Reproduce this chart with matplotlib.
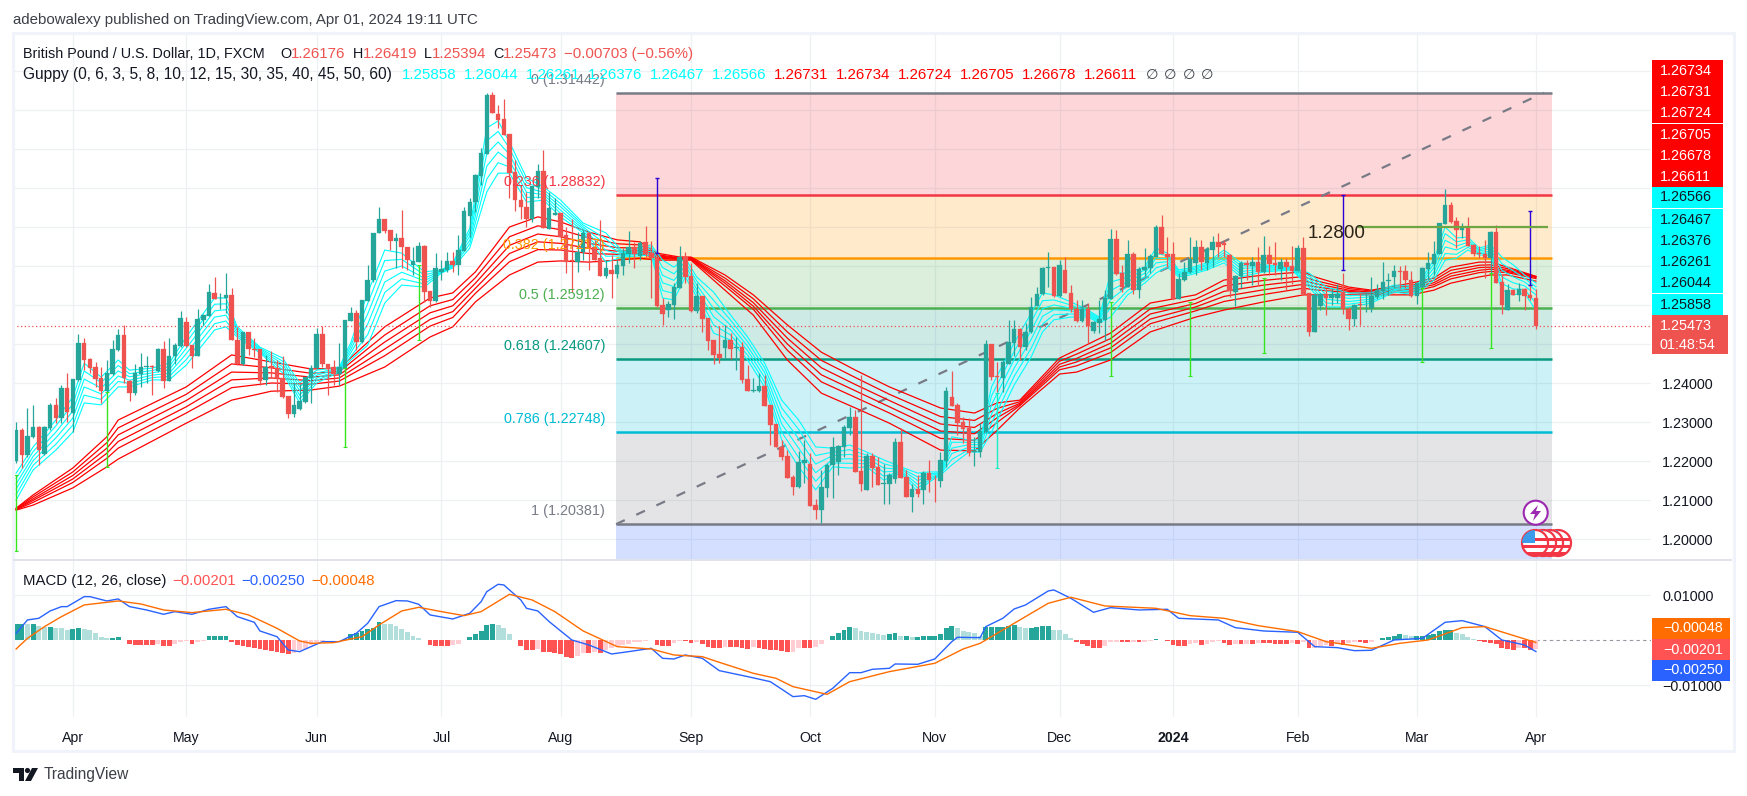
import matplotlib
matplotlib.use('Agg')
import matplotlib.pyplot as plt
from matplotlib.patches import Rectangle, Circle, Polygon
from matplotlib.transforms import IdentityTransform

W, H = 1747, 796
plt.rcParams['font.family'] = ['Liberation Sans', 'DejaVu Sans']

# === candles ===
opens = [1.2201,1.2279,1.2215,1.2262,1.2288,1.2218,1.2284,1.2344,1.2309,1.2388,
1.2324,1.2408,1.2503,1.2461,1.2441,1.2412,1.2379,1.2423,1.2485,1.2523,
1.2405,1.2374,1.2423,1.2440,1.2444,1.2432,1.2487,1.2406,1.2468,1.2495,
1.2556,1.2497,1.2468,1.2562,1.2572,1.2632,1.2617,1.2618,1.2625,1.2510,
1.2449,1.2531,1.2486,1.2486,1.2408,1.2444,1.2438,1.2412,1.2367,1.2321,
1.2333,1.2352,1.2412,1.2438,1.2526,1.2449,1.2440,1.2423,1.2438,1.2560,
1.2579,1.2505,1.2611,1.2664,1.2785,1.2821,1.2792,1.2764,1.2772,1.2749,
1.2703,1.2710,1.2751,1.2636,1.2610,1.2685,1.2690,1.2713,1.2703,1.2739,
1.2828,1.2863,1.2932,1.2987,1.3138,1.3090,1.3077,1.3038,1.2940,1.2869,
1.2852,1.2821,1.2903,1.2944,1.2795,1.2832,1.2835,1.2779,1.2716,1.2709,
1.2737,1.2785,1.2748,1.2720,1.2674,1.2689,1.2680,1.2701,1.2731,1.2748,
1.2726,1.2761,1.2733,1.2722,1.2600,1.2587,1.2600,1.2644,1.2724,1.2674,
1.2585,1.2623,1.2566,1.2510,1.2474,1.2491,1.2510,1.2491,1.2492,1.2410,
1.2380,1.2380,1.2392,1.2344,1.2295,1.2235,1.2213,1.2160,1.2134,1.2194,
1.2192,1.2087,1.2074,1.2132,1.2190,1.2198,1.2237,1.2285,1.2312,1.2174,
1.2126,1.2213,1.2185,1.2140,1.2141,1.2154,1.2248,1.2158,1.2109,1.2127,
1.2126,1.2170,1.2155,1.2150,1.2201,1.2363,1.2344,1.2300,1.2285,1.2222,
1.2224,1.2275,1.2500,1.2418,1.2413,1.2450,1.2502,1.2538,1.2493,1.2532,
1.2598,1.2627,1.2696,1.2697,1.2624,1.2691,1.2632,1.2591,1.2559,1.2590,
1.2534,1.2554,1.2562,1.2615,1.2768,1.2681,1.2647,1.2732,1.2638,1.2690,
1.2694,1.2724,1.2800,1.2732,1.2730,1.2615,1.2664,1.2684,1.2707,1.2748,
1.2707,1.2741,1.2761,1.2758,1.2728,1.2634,1.2675,1.2707,1.2701,1.2709,
1.2685,1.2727,1.2707,1.2692,1.2709,1.2700,1.2687,1.2745,1.2630,1.2532,
1.2598,1.2627,1.2617,1.2617,1.2632,1.2591,1.2564,1.2603,1.2599,1.2593,
1.2621,1.2636,1.2662,1.2673,1.2686,1.2687,1.2664,1.2624,1.2645,1.2692,
1.2705,1.2731,1.2808,1.2856,1.2815,1.2792,1.2801,1.2754,1.2733,1.2731,
1.2721,1.2788,1.2659,1.2587,1.2638,1.2626,1.2641,1.2626,1.26176]
closes = [1.2279,1.2215,1.2264,1.2288,1.2228,1.2288,1.2344,1.2309,1.2388,1.2326,
1.2410,1.2503,1.2459,1.2439,1.2410,1.2379,1.2425,1.2486,1.2523,1.2412,
1.2375,1.2426,1.2441,1.2444,1.2442,1.2487,1.2406,1.2469,1.2497,1.2566,
1.2495,1.2468,1.2564,1.2574,1.2633,1.2615,1.2619,1.2625,1.2509,1.2448,
1.2531,1.2486,1.2485,1.2406,1.2440,1.2438,1.2410,1.2365,1.2321,1.2344,
1.2354,1.2415,1.2438,1.2526,1.2449,1.2435,1.2423,1.2440,1.2562,1.2579,
1.2506,1.2613,1.2664,1.2785,1.2821,1.2791,1.2764,1.2772,1.2749,1.2715,
1.2713,1.2751,1.2633,1.2610,1.2695,1.2692,1.2713,1.2703,1.2740,1.2841,
1.2865,1.2933,1.2989,1.3138,1.3093,1.3075,1.3036,1.2939,1.2868,1.2852,
1.2821,1.2905,1.2944,1.2797,1.2848,1.2835,1.2775,1.2711,1.2713,1.2737,
1.2784,1.2745,1.2716,1.2674,1.2694,1.2680,1.2703,1.2733,1.2748,1.2731,
1.2759,1.2731,1.2721,1.2597,1.2577,1.2603,1.2645,1.2724,1.2671,1.2585,
1.2623,1.2564,1.2508,1.2472,1.2465,1.2510,1.2487,1.2493,1.2408,1.2380,
1.2382,1.2392,1.2342,1.2292,1.2235,1.2211,1.2157,1.2134,1.2197,1.2203,
1.2085,1.2074,1.2134,1.2191,1.2235,1.2238,1.2286,1.2312,1.2173,1.2141,
1.2213,1.2183,1.2138,1.2143,1.2164,1.2248,1.2157,1.2109,1.2127,1.2115,
1.2170,1.2151,1.2153,1.2203,1.2379,1.2341,1.2298,1.2282,1.2221,1.2226,
1.2278,1.2500,1.2416,1.2416,1.2455,1.2504,1.2538,1.2493,1.2532,1.2596,
1.2627,1.2694,1.2697,1.2624,1.2702,1.2632,1.2591,1.2559,1.2590,1.2547,
1.2556,1.2563,1.2617,1.2768,1.2679,1.2647,1.2732,1.2638,1.2692,1.2697,
1.2726,1.2800,1.2732,1.2724,1.2615,1.2666,1.2684,1.2718,1.2748,1.2709,
1.2744,1.2761,1.2748,1.2755,1.2636,1.2675,1.2707,1.2702,1.2709,1.2684,
1.2727,1.2705,1.2703,1.2709,1.2698,1.2687,1.2745,1.2627,1.2532,1.2626,
1.2627,1.2617,1.2628,1.2628,1.2591,1.2564,1.2600,1.2601,1.2600,1.2623,
1.2638,1.2660,1.2664,1.2687,1.2684,1.2664,1.2624,1.2656,1.2694,1.2707,
1.2732,1.2809,1.2856,1.2813,1.2792,1.2801,1.2751,1.2731,1.2731,1.2721,
1.2788,1.2657,1.2600,1.2638,1.2626,1.2641,1.2624,1.2619,1.25473]
highs = [1.2301,1.2284,1.2335,1.2344,1.2290,1.2290,1.2348,1.2361,1.2395,1.2425,
1.2410,1.2526,1.2516,1.2463,1.2455,1.2442,1.2459,1.2510,1.2538,1.2548,
1.2408,1.2450,1.2476,1.2468,1.2446,1.2489,1.2508,1.2516,1.2502,1.2585,
1.2568,1.2497,1.2591,1.2576,1.2653,1.2673,1.2632,1.2683,1.2643,1.2544,
1.2531,1.2531,1.2515,1.2486,1.2472,1.2483,1.2459,1.2469,1.2367,1.2399,
1.2397,1.2415,1.2446,1.2540,1.2546,1.2449,1.2459,1.2503,1.2562,1.2596,
1.2587,1.2613,1.2703,1.2785,1.2851,1.2821,1.2792,1.2785,1.2844,1.2749,
1.2749,1.2762,1.2754,1.2636,1.2733,1.2715,1.2737,1.2737,1.2779,1.2852,
1.2875,1.2935,1.3002,1.3143,1.3145,1.3113,1.3128,1.3038,1.2972,1.2908,
1.2891,1.2905,1.2961,1.2997,1.2891,1.2874,1.2835,1.2801,1.2820,1.2788,
1.2792,1.2785,1.2767,1.2818,1.2715,1.2728,1.2715,1.2745,1.2790,1.2762,
1.2765,1.2803,1.2764,1.2726,1.2617,1.2609,1.2656,1.2750,1.2737,1.2707,
1.2656,1.2623,1.2566,1.2510,1.2546,1.2549,1.2529,1.2519,1.2506,1.2446,
1.2412,1.2425,1.2420,1.2344,1.2295,1.2254,1.2228,1.2165,1.2226,1.2254,
1.2221,1.2103,1.2177,1.2194,1.2261,1.2240,1.2292,1.2339,1.2332,1.2421,
1.2220,1.2220,1.2211,1.2192,1.2168,1.2258,1.2284,1.2177,1.2141,1.2164,
1.2174,1.2203,1.2164,1.2224,1.2389,1.2431,1.2350,1.2312,1.2309,1.2262,
1.2297,1.2510,1.2500,1.2455,1.2460,1.2562,1.2562,1.2540,1.2553,1.2620,
1.2647,1.2697,1.2735,1.2697,1.2715,1.2724,1.2651,1.2613,1.2613,1.2604,
1.2558,1.2613,1.2638,1.2794,1.2792,1.2703,1.2767,1.2735,1.2697,1.2745,
1.2730,1.2805,1.2831,1.2774,1.2762,1.2681,1.2711,1.2774,1.2767,1.2767,
1.2748,1.2777,1.2785,1.2766,1.2730,1.2677,1.2712,1.2715,1.2724,1.2748,
1.2777,1.2750,1.2762,1.2720,1.2720,1.2751,1.2754,1.2774,1.2632,1.2632,
1.2630,1.2643,1.2640,1.2653,1.2683,1.2595,1.2603,1.2630,1.2630,1.2671,
1.2655,1.2709,1.2681,1.2703,1.2700,1.2703,1.2688,1.2658,1.2697,1.2737,
1.2765,1.2811,1.2897,1.2863,1.2826,1.2809,1.2826,1.2756,1.2750,1.2767,
1.2790,1.2805,1.2677,1.2654,1.2640,1.2656,1.2643,1.2656,1.26419]
lows = [1.2194,1.2181,1.2211,1.2258,1.2190,1.2215,1.2279,1.2297,1.2297,1.2301,
1.2275,1.2406,1.2433,1.2425,1.2391,1.2348,1.2377,1.2421,1.2483,1.2401,
1.2355,1.2369,1.2391,1.2399,1.2369,1.2429,1.2386,1.2404,1.2450,1.2493,
1.2493,1.2438,1.2468,1.2549,1.2572,1.2615,1.2591,1.2579,1.2509,1.2446,
1.2446,1.2472,1.2466,1.2395,1.2394,1.2412,1.2376,1.2361,1.2311,1.2314,
1.2331,1.2348,1.2350,1.2435,1.2442,1.2369,1.2395,1.2395,1.2425,1.2560,
1.2485,1.2502,1.2609,1.2659,1.2785,1.2785,1.2741,1.2695,1.2695,1.2690,
1.2677,1.2710,1.2608,1.2595,1.2608,1.2664,1.2685,1.2685,1.2677,1.2739,
1.2775,1.2839,1.2908,1.2987,1.3093,1.3053,1.3036,1.2874,1.2841,1.2820,
1.2801,1.2812,1.2874,1.2797,1.2795,1.2831,1.2762,1.2683,1.2634,1.2685,
1.2715,1.2690,1.2716,1.2674,1.2670,1.2617,1.2668,1.2677,1.2707,1.2694,
1.2715,1.2724,1.2617,1.2596,1.2549,1.2568,1.2564,1.2644,1.2656,1.2583,
1.2579,1.2532,1.2485,1.2448,1.2452,1.2465,1.2462,1.2433,1.2399,1.2380,
1.2377,1.2377,1.2342,1.2241,1.2235,1.2203,1.2156,1.2113,1.2130,1.2143,
1.2085,1.2051,1.2040,1.2109,1.2104,1.2164,1.2211,1.2267,1.2173,1.2124,
1.2126,1.2134,1.2138,1.2090,1.2091,1.2144,1.2157,1.2109,1.2070,1.2107,
1.2091,1.2121,1.2096,1.2134,1.2185,1.2341,1.2267,1.2245,1.2213,1.2187,
1.2211,1.2275,1.2408,1.2376,1.2376,1.2450,1.2468,1.2459,1.2485,1.2527,
1.2598,1.2625,1.2647,1.2621,1.2621,1.2630,1.2583,1.2557,1.2557,1.2503,
1.2527,1.2527,1.2510,1.2615,1.2677,1.2634,1.2645,1.2627,1.2617,1.2675,
1.2681,1.2722,1.2730,1.2698,1.2615,1.2615,1.2662,1.2682,1.2677,1.2690,
1.2690,1.2698,1.2724,1.2724,1.2621,1.2598,1.2643,1.2664,1.2651,1.2651,
1.2683,1.2677,1.2677,1.2664,1.2638,1.2655,1.2687,1.2625,1.2521,1.2532,
1.2587,1.2574,1.2600,1.2604,1.2576,1.2536,1.2547,1.2550,1.2583,1.2583,
1.2616,1.2616,1.2626,1.2643,1.2643,1.2643,1.2621,1.2603,1.2643,1.2664,
1.2677,1.2731,1.2808,1.2811,1.2745,1.2771,1.2751,1.2726,1.2720,1.2668,
1.2681,1.2656,1.2577,1.2587,1.2626,1.2609,1.2587,1.2612,1.25394]

# === guppy lines, read at these bars, top to bottom of each ribbon ===
fast_bars = [0,3,7,10,12,15,18,20,24,27,30,35,37,39,43,47,50,53,57,59,62,65,68,72,75,77,80,83,85,87,
90,93,96,100,104,107,112,114,116,118,120,123,126,129,132,135,138,141,144,147,150,153,156,159,161,163,165,168,170,172,
176,179,181,183,186,189,191,193,196,199,201,203,205,207,210,213,216,220,225,228,231,235,239,243,247,250,252,254,256,258,
260,262,264,266,268]
fast_1 = [1.2169,1.2236,1.2305,1.2364,1.2451,1.2415,1.2459,1.2433,1.2438,1.2451,1.2518,1.2618,1.2618,1.2544,1.2492,1.2464,1.2400,1.2433,1.2441,1.2503,1.2631,1.2741,1.2733,1.2685,1.2690,1.2708,1.2797,1.3054,1.3072,1.3018,
1.2926,1.2903,1.2869,1.2810,1.2785,1.2736,1.2754,1.2715,1.2697,1.2720,1.2672,1.2633,1.2574,1.2518,1.2451,1.2356,1.2305,1.2236,1.2233,1.2241,1.2223,1.2203,1.2185,1.2169,1.2172,1.2172,1.2262,1.2254,1.2254,1.2390,
1.2503,1.2579,1.2631,1.2626,1.2608,1.2587,1.2569,1.2682,1.2682,1.2697,1.2746,1.2733,1.2690,1.2695,1.2708,1.2741,1.2708,1.2703,1.2697,1.2682,1.2646,1.2631,1.2631,1.2651,1.2649,1.2715,1.2800,1.2772,1.2774,1.2746,
1.2754,1.2723,1.2703,1.2677,1.26566]
fast_2 = [1.2155,1.2224,1.2290,1.2346,1.2431,1.2401,1.2445,1.2424,1.2432,1.2442,1.2504,1.2602,1.2603,1.2539,1.2489,1.2456,1.2390,1.2426,1.2438,1.2494,1.2604,1.2714,1.2717,1.2677,1.2688,1.2705,1.2787,1.3021,1.3045,1.3002,
1.2914,1.2896,1.2860,1.2805,1.2770,1.2733,1.2749,1.2696,1.2680,1.2710,1.2662,1.2612,1.2561,1.2506,1.2439,1.2336,1.2281,1.2214,1.2223,1.2229,1.2215,1.2193,1.2182,1.2159,1.2167,1.2170,1.2248,1.2248,1.2248,1.2367,
1.2481,1.2557,1.2611,1.2613,1.2600,1.2583,1.2566,1.2659,1.2671,1.2689,1.2733,1.2726,1.2686,1.2691,1.2704,1.2734,1.2701,1.2699,1.2696,1.2675,1.2636,1.2624,1.2626,1.2647,1.2644,1.2705,1.2783,1.2762,1.2767,1.2742,
1.2749,1.2706,1.2688,1.2668,1.26467]
fast_3 = [1.2141,1.2212,1.2274,1.2328,1.2410,1.2387,1.2431,1.2416,1.2426,1.2434,1.2489,1.2585,1.2588,1.2534,1.2486,1.2449,1.2380,1.2420,1.2436,1.2485,1.2577,1.2687,1.2700,1.2669,1.2687,1.2703,1.2777,1.2988,1.3018,1.2986,
1.2901,1.2889,1.2852,1.2800,1.2755,1.2731,1.2744,1.2676,1.2663,1.2701,1.2652,1.2591,1.2548,1.2494,1.2427,1.2315,1.2257,1.2192,1.2214,1.2217,1.2208,1.2182,1.2179,1.2150,1.2162,1.2169,1.2233,1.2242,1.2242,1.2344,
1.2460,1.2534,1.2591,1.2600,1.2592,1.2580,1.2563,1.2637,1.2660,1.2681,1.2720,1.2719,1.2683,1.2688,1.2701,1.2728,1.2694,1.2696,1.2694,1.2668,1.2626,1.2617,1.2621,1.2644,1.2640,1.2695,1.2766,1.2751,1.2761,1.2739,
1.2744,1.2689,1.2672,1.2659,1.26376]
fast_4 = [1.2128,1.2201,1.2259,1.2310,1.2390,1.2372,1.2418,1.2407,1.2420,1.2425,1.2475,1.2569,1.2574,1.2528,1.2483,1.2441,1.2369,1.2413,1.2433,1.2477,1.2551,1.2659,1.2684,1.2662,1.2685,1.2700,1.2766,1.2956,1.2992,1.2970,
1.2889,1.2883,1.2843,1.2795,1.2740,1.2728,1.2738,1.2657,1.2647,1.2691,1.2641,1.2570,1.2536,1.2483,1.2414,1.2295,1.2233,1.2170,1.2204,1.2206,1.2200,1.2172,1.2175,1.2140,1.2156,1.2167,1.2219,1.2235,1.2235,1.2320,
1.2438,1.2512,1.2571,1.2588,1.2585,1.2576,1.2560,1.2614,1.2648,1.2672,1.2708,1.2711,1.2679,1.2684,1.2697,1.2721,1.2686,1.2692,1.2693,1.2660,1.2615,1.2609,1.2615,1.2640,1.2635,1.2684,1.2749,1.2741,1.2754,1.2735,
1.2738,1.2672,1.2657,1.2649,1.26261]
fast_5 = [1.2114,1.2189,1.2243,1.2292,1.2369,1.2358,1.2404,1.2399,1.2414,1.2417,1.2460,1.2552,1.2559,1.2523,1.2480,1.2434,1.2359,1.2407,1.2431,1.2468,1.2524,1.2632,1.2667,1.2654,1.2684,1.2698,1.2756,1.2923,1.2965,1.2954,
1.2876,1.2876,1.2835,1.2790,1.2725,1.2726,1.2733,1.2637,1.2630,1.2682,1.2631,1.2549,1.2523,1.2471,1.2402,1.2274,1.2209,1.2148,1.2195,1.2194,1.2193,1.2161,1.2172,1.2131,1.2151,1.2166,1.2204,1.2229,1.2229,1.2297,
1.2417,1.2489,1.2551,1.2575,1.2577,1.2573,1.2557,1.2592,1.2637,1.2664,1.2695,1.2704,1.2676,1.2681,1.2694,1.2715,1.2679,1.2689,1.2691,1.2653,1.2605,1.2602,1.2610,1.2637,1.2631,1.2674,1.2732,1.2730,1.2748,1.2732,
1.2733,1.2655,1.2641,1.2640,1.26044]
fast_6 = [1.2100,1.2177,1.2228,1.2274,1.2349,1.2344,1.2390,1.2390,1.2408,1.2408,1.2446,1.2536,1.2544,1.2518,1.2477,1.2426,1.2349,1.2400,1.2428,1.2459,1.2497,1.2605,1.2651,1.2646,1.2682,1.2695,1.2746,1.2890,1.2938,1.2938,
1.2864,1.2869,1.2826,1.2785,1.2710,1.2723,1.2728,1.2618,1.2613,1.2672,1.2621,1.2528,1.2510,1.2459,1.2390,1.2254,1.2185,1.2126,1.2185,1.2182,1.2185,1.2151,1.2169,1.2121,1.2146,1.2164,1.2190,1.2223,1.2223,1.2274,
1.2395,1.2467,1.2531,1.2562,1.2569,1.2569,1.2554,1.2569,1.2626,1.2656,1.2682,1.2697,1.2672,1.2677,1.2690,1.2708,1.2672,1.2685,1.2690,1.2646,1.2595,1.2595,1.2605,1.2633,1.2626,1.2664,1.2715,1.2720,1.2741,1.2728,
1.2728,1.2638,1.2626,1.2631,1.25858]

slow_bars = [0,3,10,16,18,30,38,45,52,57,65,73,77,81,87,92,96,101,106,110,113,117,119,125,130,136,142,148,154,163,
169,173,177,184,187,193,200,208,213,220,227,229,235,239,246,250,253,258,260,263,268]
slow_1 = [1.2079,1.2113,1.2182,1.2262,1.2305,1.2390,1.2472,1.2454,1.2436,1.2438,1.2544,1.2618,1.2631,1.2685,1.2800,1.2826,1.2813,1.2787,1.2767,1.2762,1.2733,1.2723,1.2723,1.2677,1.2626,1.2549,1.2479,1.2433,1.2390,1.2336,
1.2323,1.2349,1.2356,1.2464,1.2485,1.2528,1.2605,1.2626,1.2664,1.2677,1.2685,1.2672,1.2646,1.2638,1.2656,1.2669,1.2697,1.2710,1.2710,1.2697,1.26734]
slow_2 = [1.2078,1.2108,1.2172,1.2247,1.2285,1.2371,1.2449,1.2439,1.2425,1.2429,1.2523,1.2598,1.2614,1.2670,1.2775,1.2803,1.2793,1.2772,1.2757,1.2754,1.2729,1.2721,1.2721,1.2669,1.2616,1.2531,1.2458,1.2414,1.2371,1.2314,
1.2304,1.2335,1.2352,1.2456,1.2474,1.2514,1.2590,1.2615,1.2649,1.2663,1.2673,1.2663,1.2642,1.2636,1.2650,1.2663,1.2689,1.2702,1.2703,1.2693,1.26731]
slow_3 = [1.2077,1.2103,1.2163,1.2233,1.2267,1.2355,1.2428,1.2426,1.2415,1.2421,1.2505,1.2580,1.2598,1.2656,1.2753,1.2782,1.2775,1.2758,1.2747,1.2746,1.2726,1.2720,1.2720,1.2662,1.2606,1.2515,1.2439,1.2396,1.2355,1.2295,
1.2286,1.2322,1.2348,1.2448,1.2463,1.2502,1.2577,1.2604,1.2635,1.2651,1.2663,1.2655,1.2638,1.2633,1.2645,1.2657,1.2681,1.2696,1.2697,1.2689,1.26724]
slow_4 = [1.2076,1.2099,1.2154,1.2220,1.2250,1.2339,1.2408,1.2413,1.2406,1.2413,1.2487,1.2563,1.2583,1.2643,1.2732,1.2762,1.2758,1.2745,1.2738,1.2739,1.2723,1.2719,1.2719,1.2656,1.2597,1.2500,1.2421,1.2380,1.2339,1.2277,
1.2270,1.2311,1.2345,1.2441,1.2454,1.2490,1.2564,1.2595,1.2622,1.2639,1.2653,1.2647,1.2635,1.2631,1.2640,1.2652,1.2674,1.2689,1.2692,1.2686,1.26705]
slow_5 = [1.2075,1.2094,1.2145,1.2207,1.2233,1.2323,1.2388,1.2400,1.2397,1.2405,1.2470,1.2546,1.2568,1.2630,1.2711,1.2742,1.2741,1.2732,1.2730,1.2732,1.2720,1.2717,1.2717,1.2649,1.2589,1.2484,1.2403,1.2363,1.2323,1.2258,
1.2253,1.2299,1.2342,1.2434,1.2444,1.2478,1.2552,1.2585,1.2609,1.2627,1.2643,1.2639,1.2632,1.2629,1.2634,1.2647,1.2667,1.2683,1.2686,1.2683,1.26678]
slow_6 = [1.2074,1.2087,1.2131,1.2185,1.2205,1.2297,1.2356,1.2379,1.2382,1.2392,1.2441,1.2518,1.2544,1.2608,1.2677,1.2710,1.2713,1.2710,1.2715,1.2720,1.2715,1.2715,1.2715,1.2638,1.2574,1.2459,1.2374,1.2336,1.2297,1.2228,
1.2226,1.2279,1.2336,1.2423,1.2428,1.2459,1.2531,1.2569,1.2587,1.2608,1.2626,1.2626,1.2626,1.2626,1.2626,1.2638,1.2656,1.2672,1.2677,1.2677,1.26611]

# === fib levels ===
fib_ratios = ['0', '0.236', '0.382', '0.5', '0.618', '0.786', '1']
fib_prices = [1.31442, 1.28832, 1.27217, 1.25912, 1.24607, 1.22748, 1.20381]
fib_colors = ['#787b86', '#f23645', '#ff9800', '#4caf50', '#089981', '#00bcd4', '#787b86']
fib_fills = ['#f23645', '#ff9800', '#4caf50', '#089981', '#00bcd4', '#787b86']

# === single bar markers drawn on the chart: bar, from, to ===
lime_bars = [0, 16, 58, 71, 193, 207, 220, 248, 260]
lime_tops = [1.2164, 1.2377, 1.2438, 1.2703, 1.2608, 1.2608, 1.2669, 1.2644, 1.2682]
lime_bots = [1.1970, 1.2185, 1.2236, 1.2510, 1.2418, 1.2418, 1.2477, 1.2453, 1.2490]
blue_bars = [113, 234, 267]
blue_tops = [1.2926, 1.2882, 1.2842]
blue_bots = [1.2733, 1.2690, 1.2651]

# === MACD ===
macd_hist = [.00363,.00363,.00356,.00356,.00319,.00296,.00296,.00274,.00267,.0023,
.00252,.00274,.00259,.00222,.00156,.00067,.00044,.00052,.00074,.00001,
-.00089,-.00104,-.00104,-.00104,-.00111,-.00074,-.00119,-.00119,-.00074,-.00044,
-.00015,-.00074,-.0003,-.00015,.00089,.00089,.00089,.00089,-.0003,-.00104,
-.00133,-.00148,-.00178,-.00193,-.00207,-.00237,-.00252,-.00281,-.00296,-.00281,
-.00222,-.00185,-.00111,-.00044,-.00022,.00007,.00007,.00015,.00037,.00148,
.00163,.00207,.00244,.00281,.00407,.0037,.00355,.00311,.00252,.00178,
.00104,.00059,.00001,-.00104,-.00133,-.00133,-.00133,-.00104,-.00074,.00001,
.00067,.00133,.00207,.00333,.00355,.00333,.00266,.00133,.00001,-.00118,
-.00207,-.00222,-.00192,-.00252,-.00266,-.00281,-.00311,-.0037,-.00385,-.00355,
-.00281,-.00281,-.00252,-.00281,-.00222,-.00163,-.00133,-.00104,-.00074,-.00044,
-.0003,-.00015,-.00001,-.00104,-.00133,-.00133,-.00059,-.00015,-.00015,-.00059,
-.0003,-.00074,-.00148,-.00163,-.00163,
-.00148,-.00148,-.00148,-.00178,-.00192,-.00148,-.00163,-.00192,-.00207,
-.00222,-.00237,-.00259,-.00252,-.00163,-.00178,-.00178,-.00148,-.00074,.00001,
.00104,.00163,.00222,.00296,.00266,.00207,.00178,.00163,.00148,.00118,
.00133,.00163,.00089,.00104,.00074,.00074,.00104,.00104,.00104,.00148,
.00281,.00311,.00266,.00207,.00192,.00163,.00104,.00296,.00296,.00296,
.00296,.00326,.0034,.00296,.00266,.00281,.00296,.00311,.00326,.00237,
.00222,.00133,.00044,-.00044,-.00089,-.00133,-.00178,-.00178,-.00133,-.00044,
-.0003,-.0003,-.00044,-.0003,-.00044,-.0003,-.00015,.00022,.00015,-.00015,
-.00104,-.00118,-.00133,-.00074,-.00059,-.00104,-.00074,-.0003,-.00015,-.00059,
-.00104,-.00089,-.00089,-.00074,-.00074,-.00059,-.00059,-.00059,-.00074,-.00074,
-.00074,-.00059,-.00089,-.0003,-.00178,-.00163,-.00118,-.00104,-.00118,-.00089,
-.00104,-.00059,-.00044,-.00044,-.00059,-.0003,.00001,.00059,.00074,.00089,
.00133,.00118,.00089,.00089,.00104,.00118,.00148,.00207,.00222,.00222,
.00163,.00133,.00074,.0003,-.00015,-.00044,-.00059,-.00089,-.00163,-.00192,
-.00222,-.00178,-.00178,-.00222,-.00201]
macd_bars = [0,2,4,6,8,9,12,13,16,18,20,23,26,28,31,34,37,39,42,43,46,48,50,52,54,57,60,62,64,67,69,71,73,77,80,82,83,85,86,89,90,92,94,98,101,105,108,112,114,116,118,121,124,
129,133,137,139,141,144,147,149,151,154,155,159,162,165,166,170,171,174,176,178,182,183,186,190,193,198,203,205,212,215,220,226,229,233,236,239,243,248,252,255,259,262,266,268]
macd_line = [.00156,.00452,.00489,.00652,.00748,.00748,.0097,.0097,.00874,.00919,.00748,.00674,.00578,.00637,.00578,.00689,.00748,.00526,.004,.00207,.00081,-.00215,-.00252,-.00141,-.0003,-.0003,.00156,.00378,.00748,.00881,.00874,.008,.00563,.00474,.006,.00859,.01081,.01244,.0123,.00896,.00711,.00652,.00415,.00007,-.00104,-.00304,-.00252,-.00178,-.004,-.00415,-.00326,-.004,-.00674,
-.00807,-.00919,-.01252,-.0123,-.01311,-.01067,-.00719,-.00719,-.00644,-.00622,-.00526,-.00533,-.00415,-.0003,.00067,.00059,.00304,.00489,.00696,.00785,.01096,.01119,.00933,.00622,.00726,.00674,.00689,.00489,.00452,.00281,.00207,.00178,-.00141,-.00163,-.0023,-.00222,.00007,.00044,.004,.00437,.00304,.00007,-.00104,-.0025]
signal_bars = [0,2,5,8,12,18,22,26,31,37,41,46,50,52,56,61,64,68,71,75,79,82,87,91,95,100,106,112,116,121,124,
130,134,137,143,147,154,162,167,170,175,182,186,192,201,207,213,219,226,231,239,244,249,255,259,268]
signal_line = [-.00193,.00044,.00304,.00526,.00785,.00874,.00807,.00674,.00615,.00689,.00563,.00267,-.00015,-.00067,-.00052,.00081,.00341,.00652,.00733,.00637,.00548,.00637,.01022,.00896,.00637,.00207,-.00141,-.00193,-.00326,-.00363,-.00489,
-.00733,-.00844,-.0103,-.012,-.00919,-.00696,-.00511,-.00193,-.00067,.00304,.00822,.00956,.00763,.00711,.00548,.00489,.00326,.00193,-.0003,-.00178,-.00067,.00007,.00281,.00304,-.00048]

# === axis labels and header values ===
month_bars = [10, 30, 53, 75, 96, 119, 140, 162, 184, 204, 226, 247, 268]
month_labels = ['Apr', 'May', 'Jun', 'Jul', 'Aug', 'Sep', 'Oct', 'Nov', 'Dec', '2024', 'Feb', 'Mar', 'Apr']
price_grid = [1.20, 1.21, 1.22, 1.23, 1.24, 1.25, 1.26, 1.27, 1.28, 1.29, 1.30, 1.31, 1.32]
fast_values = ['1.25858', '1.26044', '1.26261', '1.26376', '1.26467', '1.26566']
slow_values = ['1.26731', '1.26734', '1.26724', '1.26705', '1.26678', '1.26611']
red_badges = ['1.26734', '1.26731', '1.26724', '1.26705', '1.26678', '1.26611']
cyan_badges = ['1.26566', '1.26467', '1.26376', '1.26261', '1.26044', '1.25858']

UP = '#26a69a'
DOWN = '#ef5350'
INK = '#131722'
GRID = '#eef0f4'
last_price = closes[-1]


def add_axes_px(left, top, right, bottom):
    return fig.add_axes([left / W, 1 - bottom / H, (right - left) / W, (bottom - top) / H])


def label(x, y, text, color=INK, size=10.4, **kw):
    # chart furniture, placed in picture pixels
    fig.text(x / W, 1 - y / H, text, color=color, fontsize=size, va='center', **kw)


def box(x0, y0, x1, y1, color, **kw):
    fig.add_artist(Rectangle((x0, H - y1), x1 - x0, y1 - y0, facecolor=color, edgecolor='none',
                             transform=IdentityTransform(), **kw))


fig = plt.figure(figsize=(W / 100, H / 100), dpi=100, facecolor='white')
ax = add_axes_px(13, 33, 1651, 560)
ax_m = add_axes_px(13, 560, 1651, 717)

for a in (ax, ax_m):
    a.set_xlim(-0.55, 288.3)
    for s in a.spines.values():
        s.set_visible(False)
    a.set_xticks(month_bars)
    a.grid(True, color=GRID, lw=0.9, zorder=0)
    a.set_axisbelow(True)
    a.yaxis.tick_right()
    a.tick_params(length=0, colors=INK, labelsize=10.4)

# === price pane ===
ax.set_ylim(1.19462, 1.32974)
ax.set_xticklabels([])
ax.set_yticks(price_grid)
ax.set_yticklabels(['%.5f' % p if p < 1.245 else '' for p in price_grid])
ax.tick_params(axis='y', pad=8)

fib_left, fib_right = 105.8, 270.8
edges = fib_prices + [1.19462]
for i, c in enumerate(fib_fills):
    ax.fill_between([fib_left, fib_right], edges[i], edges[i + 1], color=c, alpha=0.2, lw=0, zorder=1)
ax.fill_between([fib_left, fib_right], edges[6], edges[7], color='#2962ff', alpha=0.2, lw=0, zorder=1)
for r, p, c in zip(fib_ratios, fib_prices, fib_colors):
    ax.hlines(p, fib_left, fib_right, color=c, lw=1.8, zorder=2)
    label(605, 539 - (p - 1.2) * 3900 - 13, '%s (%.5f)' % (r, p), color=c, ha='right')
ax.plot([fib_left, 269.4], [1.20381, 1.31442], color='#787b86', lw=1.6,
        ls=(0, (4.3, 5.7)), zorder=2)

for line in (slow_1, slow_2, slow_3, slow_4, slow_5, slow_6):
    ax.plot(slow_bars, line, color='#ff0000', lw=0.9, zorder=3)
for line in (fast_1, fast_2, fast_3, fast_4, fast_5, fast_6):
    ax.plot(fast_bars, line, color='#00ffff', lw=0.8, zorder=3)

bars = range(len(closes))
colors = [UP if c >= o else DOWN for o, c in zip(opens, closes)]
ax.vlines(bars, lows, highs, colors=colors, lw=0.9, zorder=4)
ax.bar(bars, [abs(c - o) for o, c in zip(opens, closes)], bottom=[min(o, c) for o, c in zip(opens, closes)],
       width=0.8, color=colors, edgecolor=colors, lw=0.2, zorder=5)

ax.vlines(lime_bars, lime_bots, lime_tops, color='#35e61d', lw=1.0, zorder=6)
ax.plot(lime_bars + lime_bars, lime_bots + lime_tops, ls='none', marker='_', ms=3, mew=0.8, color='#35e61d', zorder=6)
ax.vlines(173, 1.2182, 1.2374, color='#14f0c4', lw=1.0, zorder=6)
ax.plot([173, 173], [1.2182, 1.2374], ls='none', marker='_', ms=3, mew=0.8, color='#14f0c4', zorder=6)
ax.vlines(blue_bars, blue_bots, blue_tops, color='#2a00d6', lw=1.0, zorder=6)
ax.plot(blue_bars + blue_bars, blue_bots + blue_tops, ls='none', marker='_', ms=3.5, mew=1, color='#2a00d6', zorder=6)

ax.hlines(1.28, 236.6, 270.2, color='#6ea644', lw=1.6, zorder=6)
ax.text(232.8, 1.2783, '1.2800', color='#2a2318', fontsize=13.6, ha='center', va='center', zorder=7)
ax.axhline(last_price, color=DOWN, lw=0.9, ls=(0, (1, 2)), zorder=3)

# === MACD pane ===
ax_m.set_ylim(-0.01704, 0.01784)
ax_m.set_yticks([-0.01, 0.01])
ax_m.set_yticklabels(['\u22120.01000', '0.01000'])
ax_m.tick_params(axis='y', pad=8)
ax_m.set_xticklabels(month_labels, fontsize=10.2, color=INK)
ax_m.get_xticklabels()[9].set_fontweight('bold')
ax_m.tick_params(axis='x', pad=10)
hist_colors = []
for i, v in enumerate(macd_hist):
    prev = macd_hist[i - 1] if i else v
    if v >= 0:
        hist_colors.append('#26a69a' if v >= prev else '#b2dfdb')
    else:
        hist_colors.append('#ff5252' if v <= prev else '#ffcdd2')
ax_m.bar(range(len(macd_hist)), macd_hist, width=0.85, color=hist_colors, lw=0, zorder=3)
ax_m.plot(macd_bars, macd_line, color='#2962ff', lw=1.0, zorder=4)
ax_m.plot(signal_bars, signal_line, color='#ff6d00', lw=1.0, zorder=5)
ax_m.hlines(0, 268, 288.3, color='#9598a1', lw=0.8, ls=(0, (3, 3)), zorder=2)

# === frame and separators ===
fig.add_artist(Rectangle((12.5, H - 751), 1721, 718, fill=False, edgecolor='#f0f3fa', lw=2.2,
                         transform=IdentityTransform()))
box(13, 559, 1732, 561, '#e0e3eb')

# === header text ===
label(13, 20, 'adebowalexy published on TradingView.com, Apr 01, 2024 19:11 UTC', color='#3c3f47', size=10.8)
label(23, 54, 'British Pound / U.S. Dollar, 1D, FXCM')
for x, t in zip((280.5, 352.5, 424, 493), 'OHLC'):
    label(x, 54, t)
for x, t in zip((291, 363, 432, 503, 564), ('1.26176', '1.26419', '1.25394', '1.25473', '\u22120.00703 (\u22120.56%)')):
    label(x, 54, t, color=DOWN, size=10.8)
label(23, 75, 'Guppy (0, 6, 3, 5, 8, 10, 12, 15, 30, 35, 40, 45, 50, 60)', size=11.2)
for i, t in enumerate(fast_values):
    label(402 + 62 * i, 75, t, color='#00ffff', size=10.9)
for i, t in enumerate(slow_values):
    label(774 + 62 * i, 75, t, color='#ff0000', size=10.9)
for i in range(4):
    label(1146 + 18.3 * i, 75, '\u2205', color='#3c3f47')

label(23, 581, 'MACD (12, 26, close)', size=10.8)
label(172, 581, '\u22120.00201', color='#ff5252', size=10.8)
label(241, 581, '\u22120.00250', color='#2962ff', size=10.8)
label(311, 581, '\u22120.00048', color='#ff6d00', size=10.8)

# === right side price badges ===
box(1652, 60, 1723, 122.7, '#ff0000')
box(1652, 123.7, 1723, 186.7, '#ff0000')
box(1652, 186.7, 1723, 208, '#00ffff')
box(1652, 209, 1723, 292.5, '#00ffff')
box(1652, 293.5, 1723, 315, '#00ffff')
for y, t in zip((70.7, 92, 112.7, 135, 156, 177), red_badges):
    label(1660, y, t, color='white')
for y, t in zip((197, 220, 241, 262, 283, 305), cyan_badges):
    label(1660, y, t, color=INK)
box(1652, 315, 1728, 354, DOWN)
label(1660, 326, '1.25473', color='white')
label(1660, 345, '01:48:54', color='white')
box(1652, 618, 1730, 639, '#ff6d00')
box(1652, 639, 1730, 660, '#ff5252')
box(1652, 660, 1730, 681, '#2962ff')
label(1663, 628.5, '\u22120.00048', color='white')
label(1663, 649.5, '\u22120.00201', color='white')
label(1663, 670.5, '\u22120.00250', color='white')

# === event icons ===
fig.add_artist(Circle((1535.7, H - 512.7), 12, facecolor='white', edgecolor='#9c27b0', lw=1.5,
                      transform=IdentityTransform()))
fig.add_artist(Polygon([(1538, H - 505), (1530, H - 514), (1535, H - 514), (1533, H - 521),
                        (1541, H - 511), (1536, H - 511)], closed=True, facecolor='#9c27b0',
                       edgecolor='none', transform=IdentityTransform()))
for cx in (1558, 1550, 1543, 1535):
    coin = Circle((cx, H - 543), 13, facecolor='white', edgecolor='#f23645', lw=1.6,
                  transform=IdentityTransform())
    fig.add_artist(coin)
    for sy in (538, 545, 552):
        s = Rectangle((cx - 13, H - sy - 2.5), 26, 2.5, facecolor='#f23645', edgecolor='none',
                      transform=IdentityTransform())
        fig.add_artist(s)
        s.set_clip_path(coin)
    c = Rectangle((cx - 13, H - 543), 13, 13, facecolor='#3d9be9', edgecolor='none',
                  transform=IdentityTransform())
    fig.add_artist(c)
    c.set_clip_path(coin)

# === TradingView logo ===
logo = dict(facecolor=INK, edgecolor='none', transform=IdentityTransform())
fig.add_artist(Polygon([(13, H - 768), (24, H - 768), (24, H - 781), (18.5, H - 781), (18.5, H - 773), (13, H - 773)], closed=True, **logo))
fig.add_artist(Circle((27.5, H - 770.5), 2.6, **logo))
fig.add_artist(Polygon([(32, H - 768), (38, H - 768), (31, H - 781), (25, H - 781)], closed=True, **logo))
label(44, 775, 'TradingView', color='#3c3f47', size=11.2)

plt.savefig('out.png', dpi=100)
